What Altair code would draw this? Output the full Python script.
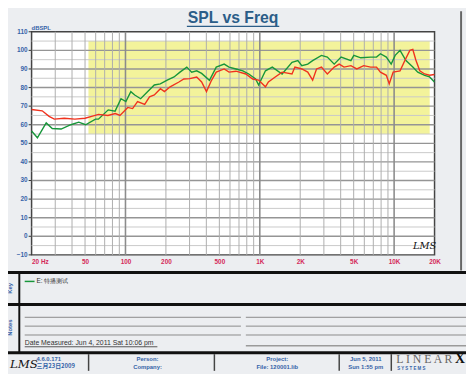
import altair as alt
import pandas as pd

# ---------------- data ----------------
red_freq = [20, 24, 27, 29.5, 35, 42, 50, 56, 63, 74, 84, 91, 104, 113, 123, 139, 151, 164, 182, 195,
            215, 250, 272, 301, 339, 369, 401, 437, 474, 543, 590, 665, 787, 885, 980, 1102, 1159,
            1303, 1466, 1737, 1826, 2056, 2275, 2474, 2646, 2877, 3183, 3582, 3899, 4238, 4767, 5275,
            5941, 6685, 7395, 7910, 8750, 9200, 9840, 11070, 12050, 13100, 13780, 14490, 15520,
            16880, 18370, 19960]
red_db = [68.2, 67.5, 64.5, 63, 63.5, 63, 63.5, 64.5, 65.6, 65, 66, 65, 69.3, 68.7, 72.5, 70.9, 75, 76,
          79.4, 77.8, 80.4, 83, 84.6, 84.8, 85.7, 83, 77.8, 83.9, 88.3, 90, 88.3, 88.8, 87.3, 84.6, 84,
          80.4, 83, 85.7, 88.3, 87.3, 91, 90, 88.3, 84, 90, 91, 87.3, 91, 92.6, 91, 91.8, 90, 91.8, 91,
          91, 88.3, 86.6, 82, 88.3, 89, 94.7, 100, 100.5, 95, 89, 87.3, 86.6, 87]

green_freq = [20, 22.1, 25.7, 28.5, 33.2, 39.2, 44.9, 50.5, 59.8, 62.9, 74.4, 83.7, 92.6, 100.7, 109.6,
              117.2, 129.7, 145.9, 164, 181.7, 204.4, 230, 254.5, 286, 311, 339, 369, 422, 474, 543,
              590, 665, 748, 828, 931, 980, 1102, 1239, 1466, 1737, 1920, 2056, 2275, 2474, 2877,
              3183, 3582, 4030, 4767, 5014, 5650, 6685, 7395, 7910, 8750, 9510, 10180, 11070, 12250,
              13780, 15000, 16880, 18370, 19960]
green_db = [56.6, 53, 61, 58, 57.7, 60, 61.4, 60, 63, 63, 68, 67.3, 74, 72.5, 77.8, 76, 74, 77.8, 81.4,
            82, 84, 85.7, 88.3, 91, 88.3, 89, 87.6, 83.9, 91, 92.6, 91, 90, 89, 87.3, 84.6, 81.4, 89, 91,
            87.3, 93.6, 94.5, 91.8, 92.6, 94.5, 97.3, 96.4, 92.6, 96.4, 94.5, 97.3, 96, 96.4, 96.4, 98.2,
            96.4, 92.6, 97.3, 100, 94.5, 91, 88.3, 86.6, 85.7, 83]

band_freq = [53, 18400]
band_db = [55, 105]

x_ticks = [20, 50, 100, 200, 500, 1000, 2000, 5000, 10000, 20000]
y_ticks = list(range(-10, 111, 10))
vgrid_minor = [30, 40, 50, 60, 70, 80, 90, 200, 300, 400, 500, 600, 700, 800, 900,
               2000, 3000, 4000, 5000, 6000, 7000, 8000, 9000]
vgrid_major = [100, 1000, 10000]
hgrid_major = list(range(0, 101, 10))
hgrid_minor = list(range(-5, 110, 10))

series_names = ["Green", "Red"]
series_colors = ["#17963a", "#f0321e"]

title_text = "SPL vs Freq"
key_text = "E: 特播测试"
date_text = "Date Measured:  Jun  4, 2011  Sat 10:06 pm"

# ---------------- frames ----------------
curves = pd.concat([
    pd.DataFrame({"f": green_freq, "db": green_db, "s": "Green", "o": range(len(green_freq))}),
    pd.DataFrame({"f": red_freq, "db": red_db, "s": "Red", "o": range(len(red_freq))}),
])
band = pd.DataFrame({"f": [band_freq[0]], "f2": [band_freq[1]], "v": [band_db[0]], "v2": [band_db[1]]})

W, H = 410, 227
PL, PT = 24, 21
FONT = "Liberation Sans"
BLUE = "#3563a8"

xs = alt.Scale(type="log", domain=[20, 20000], nice=False)
ys = alt.Scale(type="linear", domain=[-10, 110], nice=False, zero=False)

x_axis = alt.Axis(values=x_ticks, grid=False, domain=False, ticks=False, labelPadding=4,
                  labelOverlap=False,
                  labelFont=FONT, labelFontSize=6.5, labelFontWeight="bold", labelColor="#d42a5a",
                  labelAlign=alt.expr("datum.value == 20 ? 'left' : 'center'"),
                  labelExpr="datum.value >= 1000 ? format(datum.value/1000,'d') + 'K' : (datum.value == 20 ? '20  Hz' : format(datum.value,'d'))",
                  title=None)

base_rect = alt.Chart(band).mark_rect(color="#f3f39b").encode(
    x=alt.X("f:Q", scale=xs, axis=x_axis), x2="f2:Q",
    y=alt.Y("v:Q", scale=ys, axis=None), y2="v2:Q")

vmin = alt.Chart(pd.DataFrame({"f": vgrid_minor})).mark_rule(color="#adadad", strokeWidth=1).encode(
    x=alt.X("f:Q", scale=xs))
vmaj = alt.Chart(pd.DataFrame({"f": vgrid_major})).mark_rule(color="#8c8c8c", strokeWidth=1.6).encode(
    x=alt.X("f:Q", scale=xs))
hmin = alt.Chart(pd.DataFrame({"v": hgrid_minor})).mark_rule(color="#c9c9c9", strokeWidth=1).encode(
    y=alt.Y("v:Q", scale=ys, axis=None), x=alt.value(0), x2=alt.value(W))
hmaj = alt.Chart(pd.DataFrame({"v": hgrid_major})).mark_rule(color="#959595", strokeWidth=1.4).encode(
    y=alt.Y("v:Q", scale=ys, axis=None), x=alt.value(0), x2=alt.value(W))
yticks_m = alt.Chart(pd.DataFrame({"v": y_ticks})).mark_rule(color="#333", strokeWidth=1).encode(
    y=alt.Y("v:Q", scale=ys, axis=None), x=alt.value(-3), x2=alt.value(0))
ylabels = alt.Chart(pd.DataFrame({"v": y_ticks})).mark_text(
    align="right", baseline="middle", font=FONT, fontSize=6.5, fontWeight="bold", color=BLUE, dx=-4
).encode(y=alt.Y("v:Q", scale=ys, axis=None), x=alt.value(0), text="v:Q")

lines = alt.Chart(curves).mark_line(strokeWidth=1.4).encode(
    x=alt.X("f:Q", scale=xs), y=alt.Y("db:Q", scale=ys, axis=None), order="o:Q",
    color=alt.Color("s:N", scale=alt.Scale(domain=series_names, range=series_colors), legend=None))

one = pd.DataFrame({"a": [0]})


def px(v):
    return v - 32


def py(v):
    return v - 29


def hrule(x1, x2, y, color, w):
    return alt.Chart(one).mark_rule(color=color, strokeWidth=w).encode(
        x=alt.value(px(x1)), x2=alt.value(px(x2)), y=alt.value(py(y)))


def vrule(x, y1, y2, color, w):
    return alt.Chart(one).mark_rule(color=color, strokeWidth=w).encode(
        x=alt.value(px(x)), y=alt.value(py(y1)), y2=alt.value(py(y2)))


def txt(s, x, y, size=6.5, color=BLUE, weight="bold", align="left", angle=0, font=FONT,
        style="normal", baseline="alphabetic"):
    return alt.Chart(one).mark_text(text=s, fontSize=size, color=color, fontWeight=weight, align=align,
                                    angle=angle, font=font, fontStyle=style, baseline=baseline).encode(
        x=alt.value(px(x)), y=alt.value(py(y)))


deco = [
    txt(title_text, 237, 20, size=16, color="#2b5d88", align="center"),
    hrule(190, 284, 23.5, "#2b5d88", 1.5),
    txt("dBSPL", 32, 27, size=6, color=BLUE),
    txt("LMS", 420, 250, size=10, color="#111", weight="normal", style="italic", font="DejaVu Serif"),
    vrule(469, 8, 272, "#666", 2),
    hrule(0, 474, 274, "#111", 3),
    hrule(0, 474, 306.5, "#111", 3),
    hrule(0, 474, 355.5, "#111", 3),
    vrule(19.5, 275, 355, "#111", 2),
    txt("Key", 10, 290, size=6, angle=270, align="center", baseline="middle"),
    txt("Notes", 10, 330, size=6, angle=270, align="center", baseline="middle"),
    hrule(25, 35, 283, series_colors[0], 1.5),
    txt(key_text, 37, 283, size=6.5, color="#333", weight="normal", baseline="middle"),
]
for yy in [319.5, 328.5, 337.5]:
    deco.append(hrule(25, 245, yy, "#8a8a8a", 1))
    deco.append(hrule(250, 474, yy, "#8a8a8a", 1))
deco += [
    hrule(250, 474, 348.5, "#9a9a9a", 1.5),
    txt(date_text, 25, 347.5, size=7, color="#333", weight="normal"),
    hrule(25, 160, 349.5, "#555", 1),
    vrule(90, 357, 374, "#444", 1.5),
    vrule(218, 357, 374, "#444", 1.5),
    vrule(345, 357, 374, "#444", 1.5),
    vrule(398, 357, 374, "#444", 1.5),
    txt("LMS", 10, 371, size=12, color="#111", weight="normal", style="italic", font="DejaVu Serif"),
    txt("4.6.0.171", 37, 363.5, size=6),
    txt("三月23日2009", 37, 371.5, size=6, font="Noto Sans CJK SC"),
    txt("Person:", 150, 364, size=6, align="center"),
    txt("Company:", 150, 372, size=6, align="center"),
    txt("Project:", 282, 364, size=6, align="center"),
    txt("File: 120001.lib", 282, 372, size=6, align="center"),
    txt("Jun 5, 2011", 372, 364, size=6, align="center"),
    txt("Sun  1:55 pm", 372, 372, size=6, align="center"),
    txt("L  I  N  E  A  R", 403, 366, size=12, color="#666", weight="normal", font="Liberation Serif"),
    txt("X", 473, 366, size=14, color="#111", weight="bold", align="right", font="Liberation Serif"),
    txt("S    Y    S    T    E    M    S", 404, 373.5, size=4.5, color=BLUE),
]

chart = alt.layer(base_rect, hmin, hmaj, vmin, vmaj, yticks_m, ylabels, lines, *deco).properties(
    width=W, height=H,
    autosize=alt.AutoSizeParams(type="none"),
    padding={"left": PL, "top": PT, "right": 466 - PL - W, "bottom": 366 - PT - H},
    background="#eceef1",
).configure_view(fill="white", stroke="#444", strokeWidth=1.5)

chart.save("out.html", embed_options={"renderer": "svg", "actions": False})
